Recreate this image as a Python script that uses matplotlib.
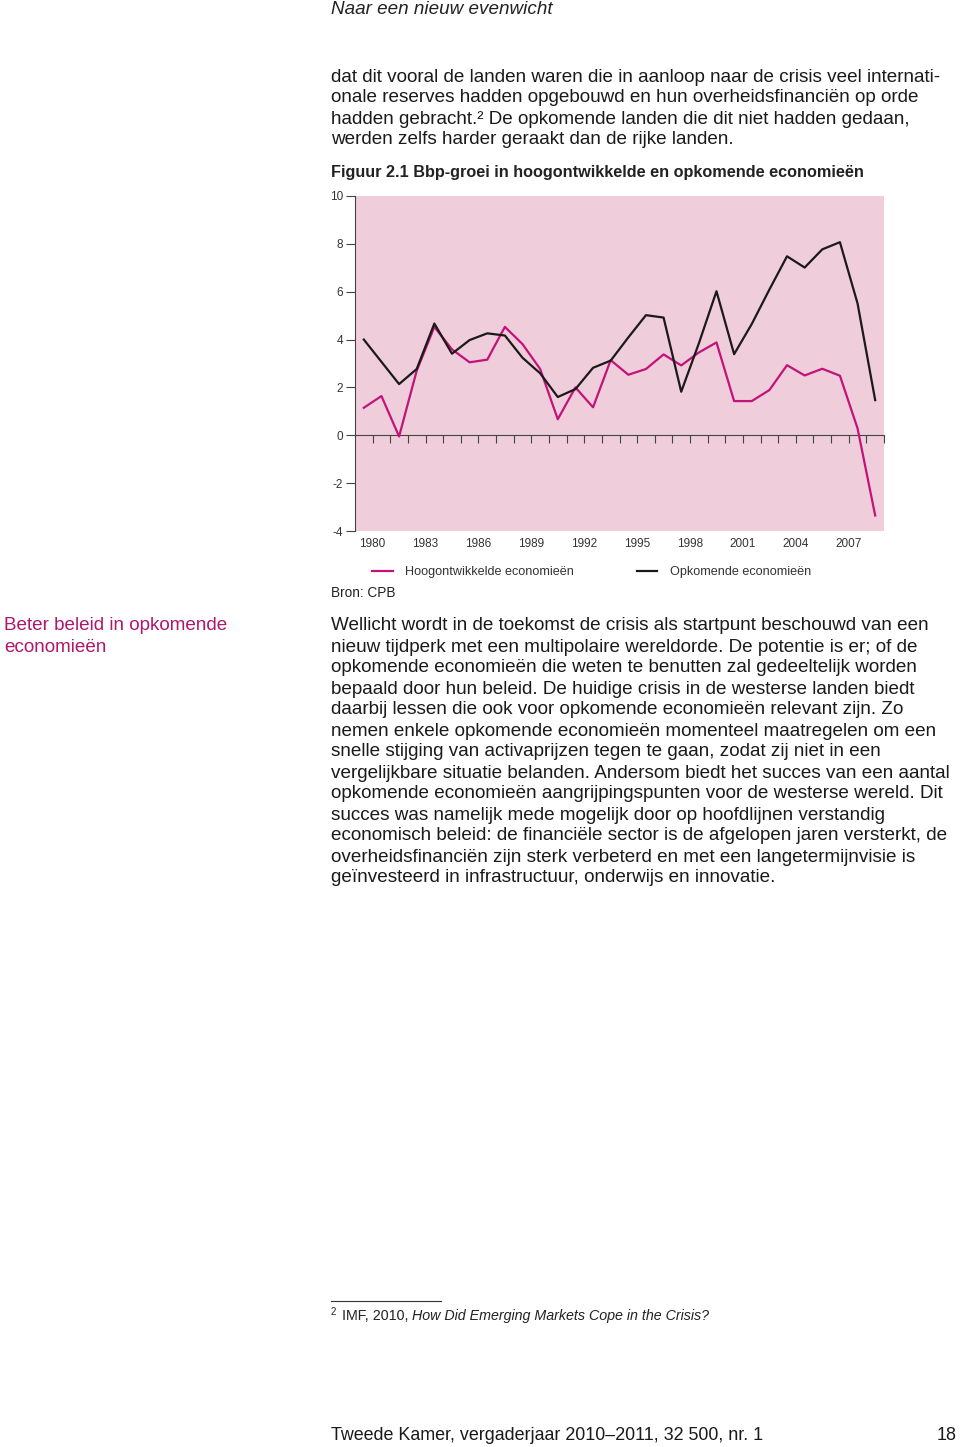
import numpy as np
import matplotlib
matplotlib.use('Agg')
import matplotlib.pyplot as plt

#----------------------------------------------------------
years = list(range(1980, 2010))
hoog = [1.15, 1.64, -0.05, 2.7, 4.53, 3.59, 3.05, 3.16, 4.53, 3.81,
        2.77, 0.67, 2.0, 1.17, 3.14, 2.53, 2.77, 3.38, 2.92, 3.46,
        3.88, 1.43, 1.43, 1.89, 2.93, 2.5, 2.78, 2.49, 0.29, -3.35]
opk = [4.0, 3.07, 2.14, 2.77, 4.67, 3.41, 3.98, 4.26, 4.17, 3.24,
       2.59, 1.6, 1.93, 2.82, 3.12, 4.09, 5.02, 4.92, 1.82, 3.84,
       6.02, 3.39, 4.65, 6.09, 7.48, 7.01, 7.77, 8.07, 5.51, 1.47]
lbl_years = list(range(1980, 2008, 3))
y_ticks = [-4, -2, 0, 2, 4, 6, 8, 10]
s_hoog = 'Hoogontwikkelde economieën'
s_opk = 'Opkomende economieën'

intro = ['dat dit vooral de landen waren die in aanloop naar de crisis veel internati-',
         'onale reserves hadden opgebouwd en hun overheidsfinanciën op orde',
         'hadden gebracht.\u00b2 De opkomende landen die dit niet hadden gedaan,',
         'werden zelfs harder geraakt dan de rijke landen.']
body = ['Wellicht wordt in de toekomst de crisis als startpunt beschouwd van een',
        'nieuw tijdperk met een multipolaire wereldorde. De potentie is er; of de',
        'opkomende economieën die weten te benutten zal gedeeltelijk worden',
        'bepaald door hun beleid. De huidige crisis in de westerse landen biedt',
        'daarbij lessen die ook voor opkomende economieën relevant zijn. Zo',
        'nemen enkele opkomende economieën momenteel maatregelen om een',
        'snelle stijging van activaprijzen tegen te gaan, zodat zij niet in een',
        'vergelijkbare situatie belanden. Andersom biedt het succes van een aantal',
        'opkomende economieën aangrijpingspunten voor de westerse wereld. Dit',
        'succes was namelijk mede mogelijk door op hoofdlijnen verstandig',
        'economisch beleid: de financiële sector is de afgelopen jaren versterkt, de',
        'overheidsfinanciën zijn sterk verbeterd en met een langetermijnvisie is',
        'geïnvesteerd in infrastructuur, onderwijs en innovatie.']

c_pink = '#c2137a'
c_bg = '#f0cdda'
c_ax = '#444444'
W, H = 960, 1447
fs_body = 13.6
plt.rcParams['font.family'] = ['Liberation Sans', 'DejaVu Sans']

#----------------------------------------------------------
fig = plt.figure(figsize=(W/100, H/100), dpi=100)

def ftxt(x, y, s, **kw):
	return fig.text(x/W, 1-y/H, s, va='center', ha=kw.pop('ha', 'left'), **kw)

ax = fig.add_axes([355/W, 1-531/H, 529/W, 335/H])
ax.set_facecolor(c_bg)
ax.plot(years, hoog, color=c_pink, lw=1.6, label=s_hoog, zorder=3)
ax.plot(years, opk, color='#1a1a1a', lw=1.6, label=s_opk, zorder=3)
ax.set_xlim(1979.5, 2009.5)
ax.set_ylim(-4, 10)

#axes
for s in ['top', 'right']:
	ax.spines[s].set_visible(False)
ax.spines['left'].set_color(c_ax)
ax.spines['bottom'].set_color(c_ax)
ax.spines['bottom'].set_position(('data', 0))
ax.spines['bottom'].set_zorder(2)
ax.set_xticks([y+0.5 for y in years])
ax.tick_params(axis='x', direction='out', length=6, width=0.8, color=c_ax, labelbottom=False)
ax.set_yticks(y_ticks)
ax.set_yticklabels([str(i) for i in y_ticks])
ax.tick_params(axis='y', direction='out', length=6.5, width=0.8, color=c_ax, pad=2, labelsize=8.5, labelcolor='#333333')

sec = ax.secondary_xaxis('bottom')
sec.spines['bottom'].set_visible(False)
sec.set_xticks([y+0.5 for y in lbl_years])
sec.set_xticklabels([str(y) for y in lbl_years])
sec.tick_params(length=0, pad=5, labelsize=8.5, labelcolor='#333333')

ax.legend(loc='upper left', bbox_to_anchor=(366/W, 1-560/H), bbox_transform=fig.transFigure,
	ncol=2, frameon=False, fontsize=9.1, handlelength=1.6, handletextpad=1.0, columnspacing=5.0,
	borderpad=0, labelcolor='#333333')

#page text
ftxt(331, 9, 'Naar een nieuw evenwicht', fontsize=fs_body, style='italic', color='#222222')
for i, l in enumerate(intro):
	ftxt(331, 77+21*i, l, fontsize=fs_body, color='#1a1a1a')
ftxt(331, 172, 'Figuur 2.1 Bbp-groei in hoogontwikkelde en opkomende economieën', fontsize=11.7, weight='bold', color='#222222')
ftxt(331, 593, 'Bron: CPB', fontsize=9.8, color='#222222')
ftxt(4, 626, 'Beter beleid in opkomende', fontsize=fs_body, color='#b0166a')
ftxt(4, 647, 'economieën', fontsize=fs_body, color='#b0166a')
for i, l in enumerate(body):
	ftxt(331, 626+21*i, l, fontsize=fs_body, color='#1a1a1a')

#footnote
fig.add_artist(plt.Line2D([331/W, 441/W], [1-1301/H, 1-1301/H], color='#333333', lw=0.8))
ftxt(331, 1312, '2', fontsize=7, color='#222222')
t = ftxt(342, 1316, 'IMF, 2010, ', fontsize=10.25, color='#222222')
fig.canvas.draw()
bb = t.get_window_extent()
ftxt(bb.x1, 1316, 'How Did Emerging Markets Cope in the Crisis?', fontsize=10.25, style='italic', color='#222222')

#footer
ftxt(331, 1435, 'Tweede Kamer, vergaderjaar 2010\u20132011, 32 500, nr. 1', fontsize=12.9, color='#1a1a1a')
ftxt(957, 1435, '18', fontsize=12.9, color='#1a1a1a', ha='right')

fig.savefig('out.png', dpi=100)
plt.close()
